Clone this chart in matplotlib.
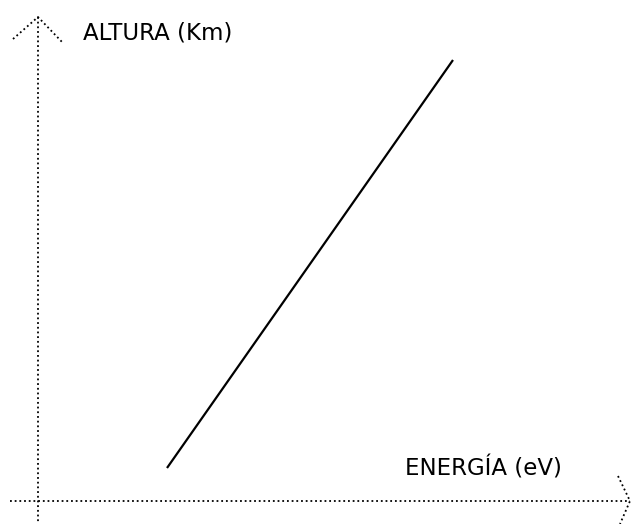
import matplotlib
matplotlib.use("Agg")
import matplotlib.pyplot as plt

# recta altura vs energia (coordenadas del dibujo)
energia = [167, 453]
altura = [468, 60]

# ejes punteados
eje_y = ([38, 38], [17, 524])
eje_x = ([10, 630], [501, 501])
flecha_y = ([13, 38, 63], [39, 17, 43])
flecha_x = ([618, 630, 620], [476, 501, 524])

fig = plt.figure(figsize=(6.35, 5.24), dpi=100)
ax = fig.add_axes([0, 0, 1, 1])
ax.set_xlim(0, 635)
ax.set_ylim(524, 0)
ax.axis("off")

estilo = dict(color="black", linestyle=(0, (1, 1.6)), linewidth=1.3)
ax.plot(*eje_y, **estilo)
ax.plot(*eje_x, **estilo)
ax.plot(*flecha_y, **estilo)
ax.plot(*flecha_x, **estilo)

ax.plot(energia, altura, color="black", linewidth=1.6, solid_capstyle="butt")

ax.text(83, 39, "ALTURA (Km)", fontsize=16.5, family="DejaVu Sans", va="baseline")
ax.text(405, 475, "ENERGÍA (eV)", fontsize=16.5, family="DejaVu Sans", va="baseline")

fig.savefig("out.png", dpi=100)
